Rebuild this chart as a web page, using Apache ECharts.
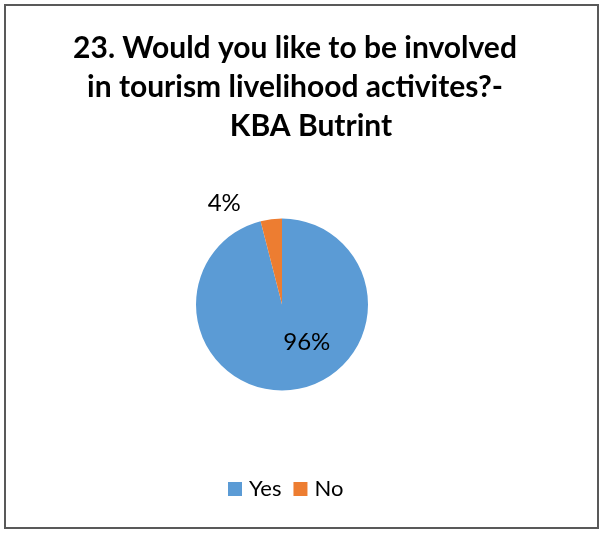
<!DOCTYPE html>
<html>
<head>
<meta charset="utf-8">
<script src="https://cdn.jsdelivr.net/npm/echarts@6/dist/echarts.min.js"></script>
<style>
  html, body { margin: 0; padding: 0; background: #fff; }
  #chart { width: 604px; height: 533px; }
</style>
</head>
<body>
<div id="chart"></div>
<script>
// Survey answers and their shares (percent)
const categories = ['Yes', 'No'];
const shares = [96, 4];
const colors = ['#5B9BD5', '#ED7D31'];
const titleLines = [
  '23. Would you like to be involved',
  'in tourism livelihood activites?-',
  'KBA Butrint'
];

// Per-slice label nudges relative to the slice's inside anchor
const labelOffsets = [[19, -8], [-52, -56]];

const titleFont = {
  fontFamily: 'Lato',
  fontWeight: 'bold',
  fontSize: 30,
  lineHeight: 39,
  color: '#000000'
};

const chart = echarts.init(document.getElementById('chart'), null, { renderer: 'canvas' });

chart.setOption({
  animation: false,
  backgroundColor: '#ffffff',
  title: {
    text: titleLines[0] + '\n' + titleLines[1] + '\n{l3|' + titleLines[2] + '}',
    left: 295,
    textAlign: 'center',
    top: 29,
    padding: 0,
    textStyle: Object.assign({}, titleFont, {
      rich: {
        l3: Object.assign({}, titleFont, { padding: [0, 0, 0, 32] })
      }
    })
  },
  legend: {
    data: categories,
    left: 228,
    top: 478,
    padding: 0,
    itemWidth: 14,
    itemHeight: 14,
    itemGap: 12,
    icon: 'rect',
    textStyle: {
      fontFamily: 'Lato',
      fontSize: 22,
      color: '#000000',
      padding: [0, 0, 0, 2]
    }
  },
  graphic: [{
    type: 'rect',
    shape: { x: 5, y: 5, width: 593, height: 523 },
    style: { fill: 'none', stroke: '#595959', lineWidth: 2 },
    silent: true
  }],
  series: [{
    type: 'pie',
    center: [282, 304.5],
    radius: 86,
    startAngle: 90,
    clockwise: true,
    avoidLabelOverlap: false,
    labelLine: { show: false },
    itemStyle: { borderWidth: 0 },
    emphasis: { disabled: true },
    data: categories.map((name, i) => ({
      name: name,
      value: shares[i],
      itemStyle: { color: colors[i] },
      label: {
        show: true,
        position: 'inside',
        offset: labelOffsets[i],
        formatter: '{d}%',
        fontFamily: 'Lato',
        fontSize: 24,
        color: '#000000'
      }
    }))
  }]
});
</script>
</body>
</html>
